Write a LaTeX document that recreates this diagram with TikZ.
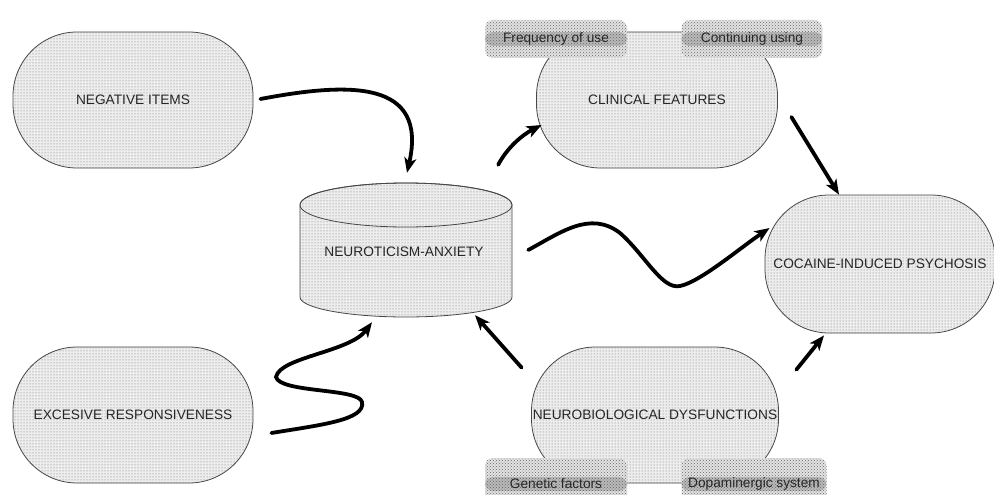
\documentclass[tikz,border=0pt]{standalone}
\usepackage{fontspec}
\setmainfont{Liberation Sans}
\usetikzlibrary{patterns,arrows.meta,calc}
\begin{document}
\begin{tikzpicture}[x=1pt,y=-1pt,
  lbl/.style={font=\fontsize{13.7}{16}\selectfont, text=black!85},
  shapefill/.style={fill=gray!14, postaction={pattern=dots, pattern color=gray!85!black}},
  stadium/.style={lbl, draw=gray!55!black, line width=0.8pt, shapefill,
    rounded corners=64pt, minimum width=240pt, minimum height=136pt, inner sep=0pt},
  tagbox/.style={lbl, fill=gray!22, postaction={pattern=crosshatch dots, pattern color=gray!80!black},
    rounded corners=8pt, minimum width=142pt, inner sep=0pt,
    path picture={\fill[gray!55] ([yshift=7pt]path picture bounding box.west) rectangle ([yshift=-7pt]path picture bounding box.east);}},
  arr/.style={line width=3.8pt, line cap=round, -{Stealth[length=15pt,width=12pt,inset=4pt]}}
]
\useasboundingbox (0,0) rectangle (994,495);

% nodes
\node[stadium] (neg) at (133,100) {NEGATIVE ITEMS};
\node[stadium] (exc) at (133,415) {EXCESIVE RESPONSIVENESS};
\node[stadium, minimum width=241pt] (clin) at (657,100) {CLINICAL FEATURES};
\node[stadium, minimum width=247pt] (neuro) at (655,415) {NEUROBIOLOGICAL DYSFUNCTIONS};
\node[stadium, minimum width=230pt, minimum height=138pt] (coc) at (880,264) {COCAINE-INDUCED PSYCHOSIS};

% cylinder
\path[draw=gray!55!black, line width=0.8pt, shapefill]
  (300,205) -- (300,297)
  .. controls (300,308) and (347.5,317) .. (406,317)
  .. controls (464.5,317) and (512,308) .. (512,297)
  -- (512,205)
  .. controls (512,192.85) and (464.5,183) .. (406,183)
  .. controls (347.5,183) and (300,192.85) .. (300,205) -- cycle;
\draw[gray!55!black, line width=0.8pt] (406,205) ellipse [x radius=106, y radius=22];
\node[lbl, minimum width=212pt, minimum height=134pt, inner sep=0pt] (cyl) at (406,250) {};
\node[lbl] (cyltxt) at (404,252) {NEUROTICISM-ANXIETY};

% tags
\node[tagbox, minimum height=38pt] (freq) at (556,39) {Frequency of use};
\node[tagbox, minimum height=38pt, minimum width=141pt] (cont) at (752,39) {Continuing using};
\node[tagbox, minimum height=52pt] (gen) at (556,484) {Genetic factors};
\node[tagbox, minimum height=52pt, minimum width=145pt] (dop) at (754,484) {Dopaminergic system};

% connectors
\draw[arr] ($(neg.east)+(7,-1)$) .. controls (350,82) and (428,80) .. ($(cyl.north)+(1,-10)$);
\draw[arr] ($(exc.east)+(18,18)$) .. controls (320,425) and (366,420) .. (362,402)
  .. controls (359,388) and (280,393) .. (276,377)
  .. controls (280,357) and (350,352) .. ($(cyl.south)+(-34,5)$);
\draw[arr] ($(cyl.north east)+(-14,-18)$) .. controls (507,148) and (522,135) .. ($(clin.west)+(5.5,25)$);
\draw[arr] ($(cyl.east)+(16,0)$) .. controls (560,233) and (590,210) .. (620,233)
  .. controls (645,255) and (662,290) .. (680,286)
  .. controls (700,282) and (740,248) .. ($(coc.west)+(5,-36)$);
\draw[arr] ($(neuro.north west)+(-9.5,21)$) -- ($(cyl.south)+(69,-2)$);
\draw[arr] ($(clin.east)+(13.5,17)$) -- ($(coc.north)+(-41,0)$);
\draw[arr] ($(neuro.north east)+(17.5,23)$) -- ($(coc.south)+(-56,2)$);
\end{tikzpicture}
\end{document}
